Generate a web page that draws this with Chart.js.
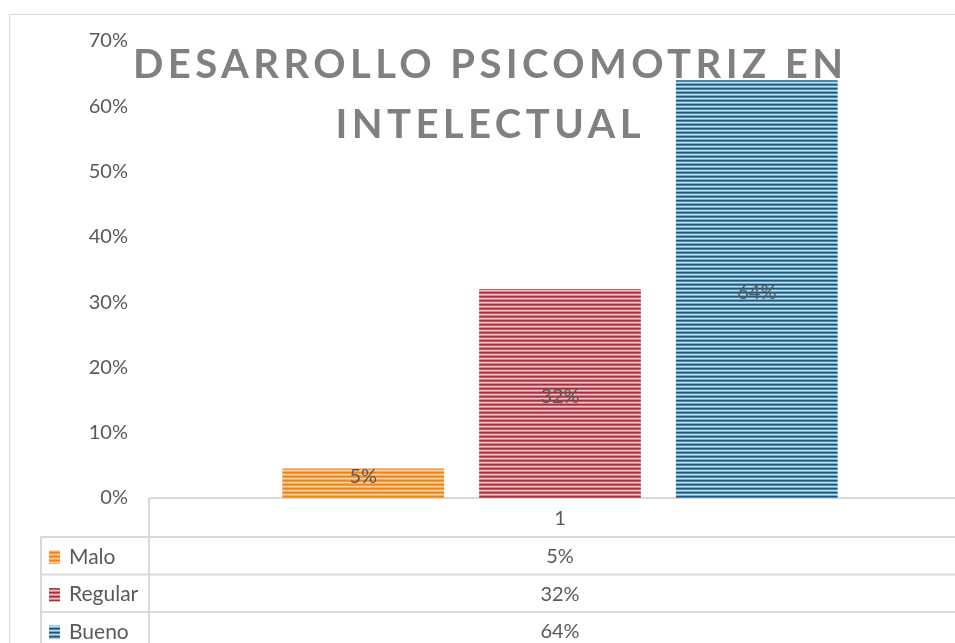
<!DOCTYPE html>
<html>
<head>
<meta charset="utf-8">
<script src="https://cdn.jsdelivr.net/npm/chart.js@4.4.0/dist/chart.umd.min.js"></script>
<style>
  html, body { margin: 0; padding: 0; overflow: hidden; background: #fff; }
  #wrap { position: relative; width: 970px; height: 643px; }
</style>
</head>
<body>
<div id="wrap"><canvas id="chart"></canvas></div>
<script>
// Data
const categories = ['1'];
const seriesNames = ['Malo', 'Regular', 'Bueno'];
const maloValues = [4.5];
const regularValues = [32];
const buenoValues = [64];
const yTickValues = [0, 10, 20, 30, 40, 50, 60, 70];
const titleLines = ['DESARROLLO PSICOMOTRIZ EN', 'INTELECTUAL'];

const ctx = document.getElementById('chart').getContext('2d');

// horizontal stripe fill like the Excel pattern
function stripes(colors) {
    const c = document.createElement('canvas');
    c.width = 4;
    c.height = colors.length;
    const g = c.getContext('2d');
    colors.forEach((col, i) => {
        g.fillStyle = col;
        g.fillRect(0, i, 4, 1);
    });
    return ctx.createPattern(c, 'repeat');
}

const fills = [
    stripes(['#ee8316', '#f39c45', '#fcd2a6', '#f6ad63']),
    stripes(['#a52f3d', '#c25c67', '#f0c2c5', '#d48790']),
    stripes(['#1b5a80', '#4d87ab', '#bfe0f0', '#7aaacb'])
];
const keyColors = ['#f29a40', '#c05a66', '#3f7ca3'];

const valueLabels = {
    id: 'valueLabels',
    afterDatasetsDraw(chart) {
        const c = chart.ctx;
        c.save();
        c.font = '20px Lato';
        c.fillStyle = '#595959';
        c.textAlign = 'center';
        c.textBaseline = 'middle';
        chart.data.datasets.forEach((ds, i) => {
            chart.getDatasetMeta(i).data.forEach((bar, j) => {
                const h = bar.base - bar.y;
                const y = h < 40 ? bar.y + 8 : bar.y + h / 2 + 3;
                c.fillText(Math.round(ds.data[j]) + '%', bar.x, y);
            });
        });
        c.restore();
    }
};

const titleAndTable = {
    id: 'titleAndTable',
    afterDraw(chart) {
        const c = chart.ctx;
        const area = chart.chartArea;
        const right = chart.width;
        const bottom = chart.height;
        const top = area.bottom;
        const cx = chart.scales.x.getPixelForValue(0);
        c.save();

        // outer frame
        c.strokeStyle = '#d9d9d9';
        c.lineWidth = 1;
        c.beginPath();
        c.moveTo(9.5, bottom);
        c.lineTo(9.5, 14.5);
        c.lineTo(right, 14.5);
        c.stroke();

        // data table grid
        c.lineWidth = 2;
        const headerH = 39, rowH = 37.5;
        c.beginPath();
        c.moveTo(149, top);
        c.lineTo(149, bottom);
        c.moveTo(41, top + headerH);
        c.lineTo(41, bottom);
        for (let i = 0; i < seriesNames.length; i++) {
            const y = top + headerH + i * rowH;
            c.moveTo(40, y);
            c.lineTo(right, y);
        }
        c.stroke();

        c.fillStyle = '#595959';
        c.textBaseline = 'middle';
        c.textAlign = 'center';
        c.font = '20px Lato';
        c.fillText(categories[0], cx, top + 21);
        chart.data.datasets.forEach((ds, i) => {
            const y = top + headerH + i * rowH + rowH / 2 + 1;
            c.font = '20px Lato';
            c.textAlign = 'center';
            c.fillStyle = '#595959';
            c.fillText(Math.round(ds.data[0]) + '%', cx, y);
            c.font = '21px Lato';
            c.textAlign = 'left';
            c.fillText(ds.label, 69, y);
            c.fillStyle = keyColors[i];
            c.fillRect(49, y - 6, 11, 13);
            c.fillStyle = fills[i];
            c.fillRect(49, y - 6, 11, 13);
        });

        // title, letter-spaced and drawn over the plot
        c.fillStyle = '#808080';
        c.font = 'bold 40px Lato';
        c.textAlign = 'left';
        c.textBaseline = 'alphabetic';
        const titleCenter = 488;
        const line1Width = 710;
        const w0 = c.measureText(titleLines[0]).width;
        const spacing = (line1Width - w0) / (titleLines[0].length - 1);
        c.letterSpacing = spacing + 'px';
        titleLines.forEach((line, i) => {
            const w = c.measureText(line).width - spacing;
            c.fillText(line, titleCenter - w / 2, 78 + i * 60);
        });
        c.restore();
    }
};

const seriesValues = [maloValues, regularValues, buenoValues];

new Chart(ctx, {
    type: 'bar',
    data: {
        labels: categories,
        datasets: seriesNames.map((name, i) => ({
            label: name,
            data: seriesValues[i],
            backgroundColor: fills[i],
            borderWidth: 0,
            categoryPercentage: 0.72,
            barPercentage: 0.822
        }))
    },
    options: {
        responsive: true,
        maintainAspectRatio: false,
        animation: false,
        layout: { padding: { top: 41, right: 0, bottom: 0, left: 0 } },
        scales: {
            x: {
                ticks: { display: false },
                grid: { display: false },
                border: { display: true, color: '#d9d9d9', width: 2 },
                afterFit: s => { s.height = 145; }
            },
            y: {
                min: 0,
                max: 70,
                afterBuildTicks: s => { s.ticks = yTickValues.map(v => ({ value: v })); },
                ticks: {
                    padding: 22,
                    color: '#595959',
                    font: { family: 'Lato', size: 20 },
                    callback: v => v + '%'
                },
                grid: { display: false, drawTicks: false },
                border: { display: false },
                afterFit: s => { s.width = 150; }
            }
        },
        plugins: {
            legend: { display: false },
            tooltip: { enabled: false }
        }
    },
    plugins: [valueLabels, titleAndTable]
});
</script>
</body>
</html>
